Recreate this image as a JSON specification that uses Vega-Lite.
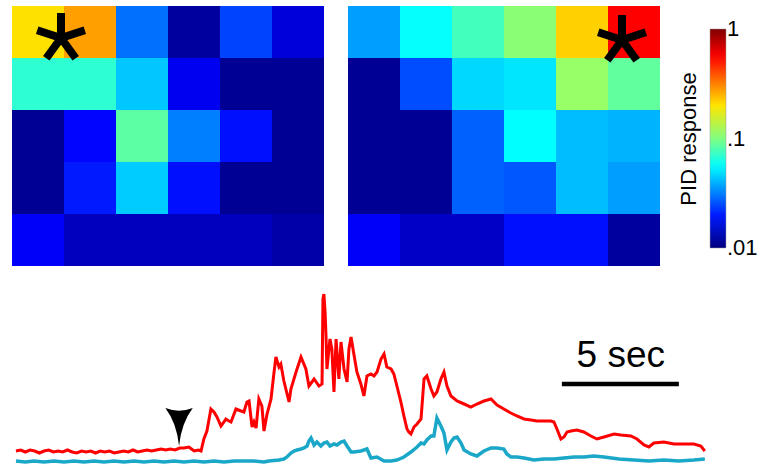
{
  "$schema": "https://vega.github.io/schema/vega-lite/v6.json",
  "background": "white",
  "padding": {"left": 8, "top": 6, "right": 0, "bottom": 0},
  "autosize": {"type": "pad"},
  "config": {"view": {"stroke": null}},
  "spacing": 18,
  "datasets": {
    "cells": [
      {"p":"A","r":0,"c":0,"v":0.204},{"p":"A","r":0,"c":1,"v":0.275},{"p":"A","r":0,"c":2,"v":0.0294},{"p":"A","r":0,"c":3,"v":0.0115},{"p":"A","r":0,"c":4,"v":0.024},{"p":"A","r":0,"c":5,"v":0.0151},
      {"p":"A","r":1,"c":0,"v":0.069},{"p":"A","r":1,"c":1,"v":0.069},{"p":"A","r":1,"c":2,"v":0.0437},{"p":"A","r":1,"c":3,"v":0.0166},{"p":"A","r":1,"c":4,"v":0.011},{"p":"A","r":1,"c":5,"v":0.011},
      {"p":"A","r":2,"c":0,"v":0.011},{"p":"A","r":2,"c":1,"v":0.0182},{"p":"A","r":2,"c":2,"v":0.085},{"p":"A","r":2,"c":3,"v":0.0316},{"p":"A","r":2,"c":4,"v":0.0191},{"p":"A","r":2,"c":5,"v":0.011},
      {"p":"A","r":3,"c":0,"v":0.011},{"p":"A","r":3,"c":1,"v":0.02},{"p":"A","r":3,"c":2,"v":0.0447},{"p":"A","r":3,"c":3,"v":0.0191},{"p":"A","r":3,"c":4,"v":0.011},{"p":"A","r":3,"c":5,"v":0.011},
      {"p":"A","r":4,"c":0,"v":0.0174},{"p":"A","r":4,"c":1,"v":0.0132},{"p":"A","r":4,"c":2,"v":0.0132},{"p":"A","r":4,"c":3,"v":0.0132},{"p":"A","r":4,"c":4,"v":0.0132},{"p":"A","r":4,"c":5,"v":0.012},
      {"p":"B","r":0,"c":0,"v":0.0363},{"p":"B","r":0,"c":1,"v":0.0575},{"p":"B","r":0,"c":2,"v":0.0759},{"p":"B","r":0,"c":3,"v":0.1047},{"p":"B","r":0,"c":4,"v":0.2188},{"p":"B","r":0,"c":5,"v":0.5623},
      {"p":"B","r":1,"c":0,"v":0.011},{"p":"B","r":1,"c":1,"v":0.0251},{"p":"B","r":1,"c":2,"v":0.0472},{"p":"B","r":1,"c":3,"v":0.0501},{"p":"B","r":1,"c":4,"v":0.1117},{"p":"B","r":1,"c":5,"v":0.0871},
      {"p":"B","r":2,"c":0,"v":0.011},{"p":"B","r":2,"c":1,"v":0.011},{"p":"B","r":2,"c":2,"v":0.0275},{"p":"B","r":2,"c":3,"v":0.0562},{"p":"B","r":2,"c":4,"v":0.0417},{"p":"B","r":2,"c":5,"v":0.0398},
      {"p":"B","r":3,"c":0,"v":0.011},{"p":"B","r":3,"c":1,"v":0.011},{"p":"B","r":3,"c":2,"v":0.0275},{"p":"B","r":3,"c":3,"v":0.0263},{"p":"B","r":3,"c":4,"v":0.0417},{"p":"B","r":3,"c":5,"v":0.0363},
      {"p":"B","r":4,"c":0,"v":0.0174},{"p":"B","r":4,"c":1,"v":0.0138},{"p":"B","r":4,"c":2,"v":0.0138},{"p":"B","r":4,"c":3,"v":0.0191},{"p":"B","r":4,"c":4,"v":0.0191},{"p":"B","r":4,"c":5,"v":0.0115}
    ],
    "stars": [{"p":"A","r":0,"c":0},{"p":"B","r":0,"c":5}],
    "red": [
      {"t":0.00,"s":0.11},{"t":0.20,"s":0.12},{"t":0.40,"s":0.10},{"t":0.60,"s":0.12},{"t":0.80,"s":0.11},{"t":1.00,"s":0.09},{"t":1.20,"s":0.11},{"t":1.40,"s":0.12},{"t":1.60,"s":0.10},{"t":1.80,"s":0.11},
      {"t":2.00,"s":0.10},{"t":2.20,"s":0.12},{"t":2.40,"s":0.10},{"t":2.60,"s":0.09},{"t":2.80,"s":0.11},{"t":3.00,"s":0.10},{"t":3.20,"s":0.11},{"t":3.40,"s":0.09},{"t":3.60,"s":0.11},{"t":3.80,"s":0.10},
      {"t":4.00,"s":0.11},{"t":4.20,"s":0.09},{"t":4.40,"s":0.10},{"t":4.60,"s":0.11},{"t":4.80,"s":0.10},{"t":5.00,"s":0.12},{"t":5.20,"s":0.10},{"t":5.40,"s":0.11},{"t":5.60,"s":0.12},{"t":5.80,"s":0.11},
      {"t":6.00,"s":0.12},{"t":6.20,"s":0.13},{"t":6.40,"s":0.12},{"t":6.60,"s":0.13},{"t":6.80,"s":0.12},{"t":7.00,"s":0.14},{"t":7.18,"s":0.14},{"t":7.39,"s":0.15},{"t":7.50,"s":0.13},{"t":7.61,"s":0.11},
      {"t":7.80,"s":0.12},{"t":7.91,"s":0.11},{"t":8.03,"s":0.23},{"t":8.16,"s":0.31},{"t":8.33,"s":0.53},{"t":8.46,"s":0.50},{"t":8.59,"s":0.45},{"t":8.76,"s":0.36},{"t":8.89,"s":0.40},{"t":8.97,"s":0.43},
      {"t":9.10,"s":0.41},{"t":9.19,"s":0.40},{"t":9.32,"s":0.48},{"t":9.40,"s":0.53},{"t":9.62,"s":0.51},{"t":9.74,"s":0.50},{"t":9.87,"s":0.60},{"t":9.96,"s":0.61},{"t":10.09,"s":0.35},{"t":10.17,"s":0.40},
      {"t":10.26,"s":0.34},{"t":10.38,"s":0.63},{"t":10.51,"s":0.56},{"t":10.60,"s":0.31},{"t":10.73,"s":0.48},{"t":10.90,"s":0.63},{"t":11.03,"s":0.90},{"t":11.11,"s":1.05},{"t":11.24,"s":0.95},{"t":11.32,"s":0.98},
      {"t":11.45,"s":0.81},{"t":11.67,"s":0.60},{"t":11.75,"s":0.73},{"t":11.97,"s":0.90},{"t":12.18,"s":1.05},{"t":12.39,"s":0.93},{"t":12.52,"s":0.76},{"t":12.74,"s":0.83},{"t":12.95,"s":0.76},{"t":13.08,"s":0.78},
      {"t":13.12,"s":1.63},{"t":13.16,"s":1.68},{"t":13.21,"s":1.50},{"t":13.25,"s":1.26},{"t":13.29,"s":0.93},{"t":13.42,"s":1.23},{"t":13.50,"s":1.13},{"t":13.59,"s":0.70},{"t":13.68,"s":1.23},{"t":13.80,"s":0.83},
      {"t":13.89,"s":1.20},{"t":14.02,"s":0.93},{"t":14.15,"s":0.80},{"t":14.23,"s":1.13},{"t":14.32,"s":1.25},{"t":14.44,"s":1.08},{"t":14.57,"s":0.90},{"t":14.74,"s":0.78},{"t":14.87,"s":0.66},{"t":15.00,"s":0.86},
      {"t":15.17,"s":0.88},{"t":15.30,"s":0.86},{"t":15.43,"s":0.90},{"t":15.60,"s":1.03},{"t":15.73,"s":1.08},{"t":15.85,"s":0.95},{"t":16.03,"s":0.93},{"t":16.15,"s":0.88},{"t":16.28,"s":0.76},{"t":16.45,"s":0.60},
      {"t":16.58,"s":0.46},{"t":16.71,"s":0.33},{"t":16.79,"s":0.30},{"t":16.88,"s":0.28},{"t":17.01,"s":0.35},{"t":17.14,"s":0.38},{"t":17.31,"s":0.43},{"t":17.44,"s":0.83},{"t":17.56,"s":0.86},{"t":17.74,"s":0.73},
      {"t":17.86,"s":0.66},{"t":17.99,"s":0.70},{"t":18.16,"s":0.83},{"t":18.29,"s":0.90},{"t":18.42,"s":0.76},{"t":18.59,"s":0.66},{"t":18.85,"s":0.61},{"t":19.15,"s":0.58},{"t":19.44,"s":0.55},{"t":19.70,"s":0.58},
      {"t":20.00,"s":0.61},{"t":20.30,"s":0.63},{"t":20.56,"s":0.57},{"t":20.85,"s":0.53},{"t":21.15,"s":0.49},{"t":21.41,"s":0.46},{"t":21.71,"s":0.43},{"t":22.01,"s":0.42},{"t":22.26,"s":0.41},{"t":22.56,"s":0.41},
      {"t":22.86,"s":0.41},{"t":22.99,"s":0.40},{"t":23.12,"s":0.33},{"t":23.29,"s":0.23},{"t":23.42,"s":0.25},{"t":23.55,"s":0.30},{"t":23.72,"s":0.31},{"t":23.97,"s":0.32},{"t":24.27,"s":0.30},{"t":24.57,"s":0.26},
      {"t":24.83,"s":0.23},{"t":25.13,"s":0.25},{"t":25.56,"s":0.28},{"t":25.85,"s":0.27},{"t":26.28,"s":0.26},{"t":26.54,"s":0.23},{"t":26.84,"s":0.17},{"t":27.05,"s":0.15},{"t":27.26,"s":0.19},{"t":27.69,"s":0.20},
      {"t":28.12,"s":0.18},{"t":28.55,"s":0.18},{"t":28.97,"s":0.18},{"t":29.27,"s":0.16},{"t":29.44,"s":0.11}
    ],
    "cyan": [
      {"t":0.00,"s":0.01},{"t":0.40,"s":0.00},{"t":0.77,"s":0.01},{"t":1.20,"s":0.00},{"t":1.62,"s":0.01},{"t":2.05,"s":0.00},{"t":2.48,"s":0.01},{"t":2.91,"s":0.00},{"t":3.33,"s":0.01},{"t":3.76,"s":0.00},
      {"t":4.19,"s":0.01},{"t":4.62,"s":0.00},{"t":5.04,"s":0.01},{"t":5.47,"s":0.00},{"t":5.90,"s":0.01},{"t":6.32,"s":0.00},{"t":6.75,"s":0.01},{"t":7.18,"s":0.00},{"t":7.61,"s":0.01},{"t":8.03,"s":0.00},
      {"t":8.46,"s":0.01},{"t":8.89,"s":0.00},{"t":9.32,"s":0.01},{"t":9.74,"s":0.01},{"t":10.17,"s":0.01},{"t":10.60,"s":0.00},{"t":10.81,"s":0.01},{"t":11.24,"s":0.02},{"t":11.45,"s":0.03},{"t":11.58,"s":0.05},
      {"t":11.75,"s":0.09},{"t":11.88,"s":0.11},{"t":12.01,"s":0.12},{"t":12.18,"s":0.13},{"t":12.31,"s":0.14},{"t":12.44,"s":0.16},{"t":12.52,"s":0.21},{"t":12.61,"s":0.24},{"t":12.74,"s":0.17},{"t":12.86,"s":0.20},
      {"t":13.03,"s":0.16},{"t":13.16,"s":0.19},{"t":13.29,"s":0.20},{"t":13.42,"s":0.16},{"t":13.59,"s":0.18},{"t":13.72,"s":0.17},{"t":13.89,"s":0.20},{"t":14.02,"s":0.21},{"t":14.15,"s":0.16},{"t":14.32,"s":0.10},
      {"t":14.44,"s":0.10},{"t":14.74,"s":0.11},{"t":15.00,"s":0.13},{"t":15.17,"s":0.04},{"t":15.43,"s":0.05},{"t":15.73,"s":0.01},{"t":16.03,"s":0.01},{"t":16.28,"s":0.02},{"t":16.58,"s":0.05},{"t":16.88,"s":0.10},
      {"t":17.14,"s":0.15},{"t":17.31,"s":0.19},{"t":17.44,"s":0.18},{"t":17.56,"s":0.22},{"t":17.74,"s":0.26},{"t":17.86,"s":0.26},{"t":17.99,"s":0.44},{"t":18.16,"s":0.36},{"t":18.29,"s":0.29},{"t":18.42,"s":0.12},
      {"t":18.59,"s":0.20},{"t":18.72,"s":0.24},{"t":18.85,"s":0.25},{"t":19.02,"s":0.19},{"t":19.15,"s":0.12},{"t":19.44,"s":0.08},{"t":19.70,"s":0.06},{"t":20.00,"s":0.11},{"t":20.30,"s":0.14},{"t":20.56,"s":0.14},
      {"t":20.85,"s":0.13},{"t":20.98,"s":0.08},{"t":21.15,"s":0.05},{"t":21.41,"s":0.05},{"t":21.71,"s":0.04},{"t":22.14,"s":0.02},{"t":22.56,"s":0.03},{"t":22.99,"s":0.03},{"t":23.42,"s":0.04},{"t":23.85,"s":0.05},
      {"t":24.27,"s":0.05},{"t":24.70,"s":0.06},{"t":25.13,"s":0.05},{"t":25.77,"s":0.03},{"t":26.41,"s":0.02},{"t":27.05,"s":0.01},{"t":27.69,"s":0.02},{"t":28.33,"s":0.01},{"t":28.97,"s":0.02},{"t":29.44,"s":0.03}
    ]
  },
  "vconcat": [
    {
      "spacing": 24,
      "bounds": "flush",
      "resolve": {"scale": {"color": "independent"}, "legend": {"color": "independent"}},
      "hconcat": [
        {
          "width": 312, "height": 260,
          "layer": [
            {
              "data": {"name": "cells"},
              "transform": [{"filter": "datum.p == 'A'"}],
              "mark": {"type": "rect"},
              "encoding": {
                "x": {"field": "c", "type": "ordinal", "axis": null, "scale": {"paddingInner": 0, "paddingOuter": 0}},
                "y": {"field": "r", "type": "ordinal", "axis": null, "scale": {"paddingInner": 0, "paddingOuter": 0}},
                "color": {"field": "v", "type": "quantitative", "legend": null,
                  "scale": {"type": "log", "domain": [0.01, 1], "interpolate": "rgb", "range": ["#000080","#0000FF","#0080FF","#00FFFF","#80FF80","#FFFF00","#FF8000","#FF0000","#800000"]}}
              }
            },
            {
              "data": {"name": "stars"},
              "transform": [{"filter": "datum.p == 'A'"}],
              "mark": {"type": "point", "shape": "M0,0L0,-1M0,0L-0.952,-0.31M0,0L0.952,-0.31M0,0L-0.588,0.81M0,0L0.588,0.81", "size": 2500, "filled": false, "stroke": "black", "strokeWidth": 8, "strokeCap": "butt", "strokeJoin": "bevel", "opacity": 1, "xOffset": 23, "yOffset": 6},
              "encoding": {
                "x": {"field": "c", "type": "ordinal"},
                "y": {"field": "r", "type": "ordinal"}
              }
            }
          ]
        },
        {
          "width": 312, "height": 260,
          "layer": [
            {
              "data": {"name": "cells"},
              "transform": [{"filter": "datum.p == 'B'"}],
              "mark": {"type": "rect"},
              "encoding": {
                "x": {"field": "c", "type": "ordinal", "axis": null, "scale": {"paddingInner": 0, "paddingOuter": 0}},
                "y": {"field": "r", "type": "ordinal", "axis": null, "scale": {"paddingInner": 0, "paddingOuter": 0}},
                "color": {"field": "v", "type": "quantitative",
                  "scale": {"type": "log", "domain": [0.01, 1], "interpolate": "rgb", "range": ["#000080","#0000FF","#0080FF","#00FFFF","#80FF80","#FFFF00","#FF8000","#FF0000","#800000"]},
                  "legend": {
                    "title": "PID response", "orient": "none", "legendX": 330, "legendY": 23,
                    "direction": "vertical",
                    "gradientLength": 219, "gradientThickness": 16,
                    "gradientStrokeColor": "#999999", "gradientStrokeWidth": 0.5,
                    "titleOrient": "left", "titleAngle": 270, "titleAnchor": "middle", "titleBaseline": "bottom",
                    "titleFont": "Liberation Sans", "titleFontSize": 22, "titleFontWeight": "normal", "titleColor": "black", "titlePadding": -14,
                    "values": [0.01, 0.1, 1],
                    "labelExpr": "datum.value >= 0.99 ? '1' : datum.value >= 0.099 ? '.1' : '.01'",
                    "labelFont": "Liberation Sans", "labelFontSize": 22, "labelColor": "black", "labelOffset": 1, "labelBaseline": "middle",
                    "padding": 0,
                    "encode": {"labels": {"update": {"baseline": {"value": "middle"}}}}
                  }}
              }
            },
            {
              "data": {"name": "stars"},
              "transform": [{"filter": "datum.p == 'B'"}],
              "mark": {"type": "point", "shape": "M0,0L0,-1M0,0L-0.952,-0.31M0,0L0.952,-0.31M0,0L-0.588,0.81M0,0L0.588,0.81", "size": 2500, "filled": false, "stroke": "black", "strokeWidth": 8, "strokeCap": "butt", "strokeJoin": "bevel", "opacity": 1, "xOffset": -12, "yOffset": 8},
              "encoding": {
                "x": {"field": "c", "type": "ordinal"},
                "y": {"field": "r", "type": "ordinal"}
              }
            }
          ]
        }
      ]
    },
    {
      "width": 694, "height": 181,
      "layer": [
        {
          "data": {"name": "red"},
          "mark": {"type": "line", "color": "#FF0000", "strokeWidth": 3},
          "encoding": {
            "x": {"field": "t", "type": "quantitative", "axis": null, "scale": {"domain": [-0.17, 29.49], "nice": false, "zero": false}},
            "y": {"field": "s", "type": "quantitative", "axis": null, "scale": {"domain": [-0.03, 1.78], "nice": false, "zero": false}}
          }
        },
        {
          "data": {"name": "cyan"},
          "mark": {"type": "line", "color": "#1BA7C8", "strokeWidth": 3.5},
          "encoding": {
            "x": {"field": "t", "type": "quantitative", "axis": null, "scale": {"domain": [-0.17, 29.49], "nice": false, "zero": false}},
            "y": {"field": "s", "type": "quantitative", "axis": null, "scale": {"domain": [-0.03, 1.78], "nice": false, "zero": false}}
          }
        },
        {
          "data": {"values": [{"t0": 23.33, "t1": 28.33, "s": 0.78}]},
          "mark": {"type": "rule", "color": "black", "strokeWidth": 4.5},
          "encoding": {
            "x": {"field": "t0", "type": "quantitative"},
            "x2": {"field": "t1"},
            "y": {"field": "s", "type": "quantitative"}
          }
        },
        {
          "data": {"values": [{"t": 25.85, "s": 0.95, "label": "5 sec"}]},
          "mark": {"type": "text", "font": "Liberation Sans", "fontSize": 37, "color": "black", "align": "center", "baseline": "alphabetic"},
          "encoding": {
            "x": {"field": "t", "type": "quantitative"},
            "y": {"field": "s", "type": "quantitative"},
            "text": {"field": "label"}
          }
        },
        {
          "data": {"values": [{"t": 6.97, "s": 0.35}]},
          "mark": {"type": "point", "shape": "M-0.72,-1Q0,-0.72,0.72,-1Q0.12,-0.2,0,1Q-0.12,-0.2,-0.72,-1Z", "size": 1444, "filled": true, "color": "black", "opacity": 1, "strokeJoin": "bevel"},
          "encoding": {
            "x": {"field": "t", "type": "quantitative"},
            "y": {"field": "s", "type": "quantitative"}
          }
        }
      ]
    }
  ]
}
